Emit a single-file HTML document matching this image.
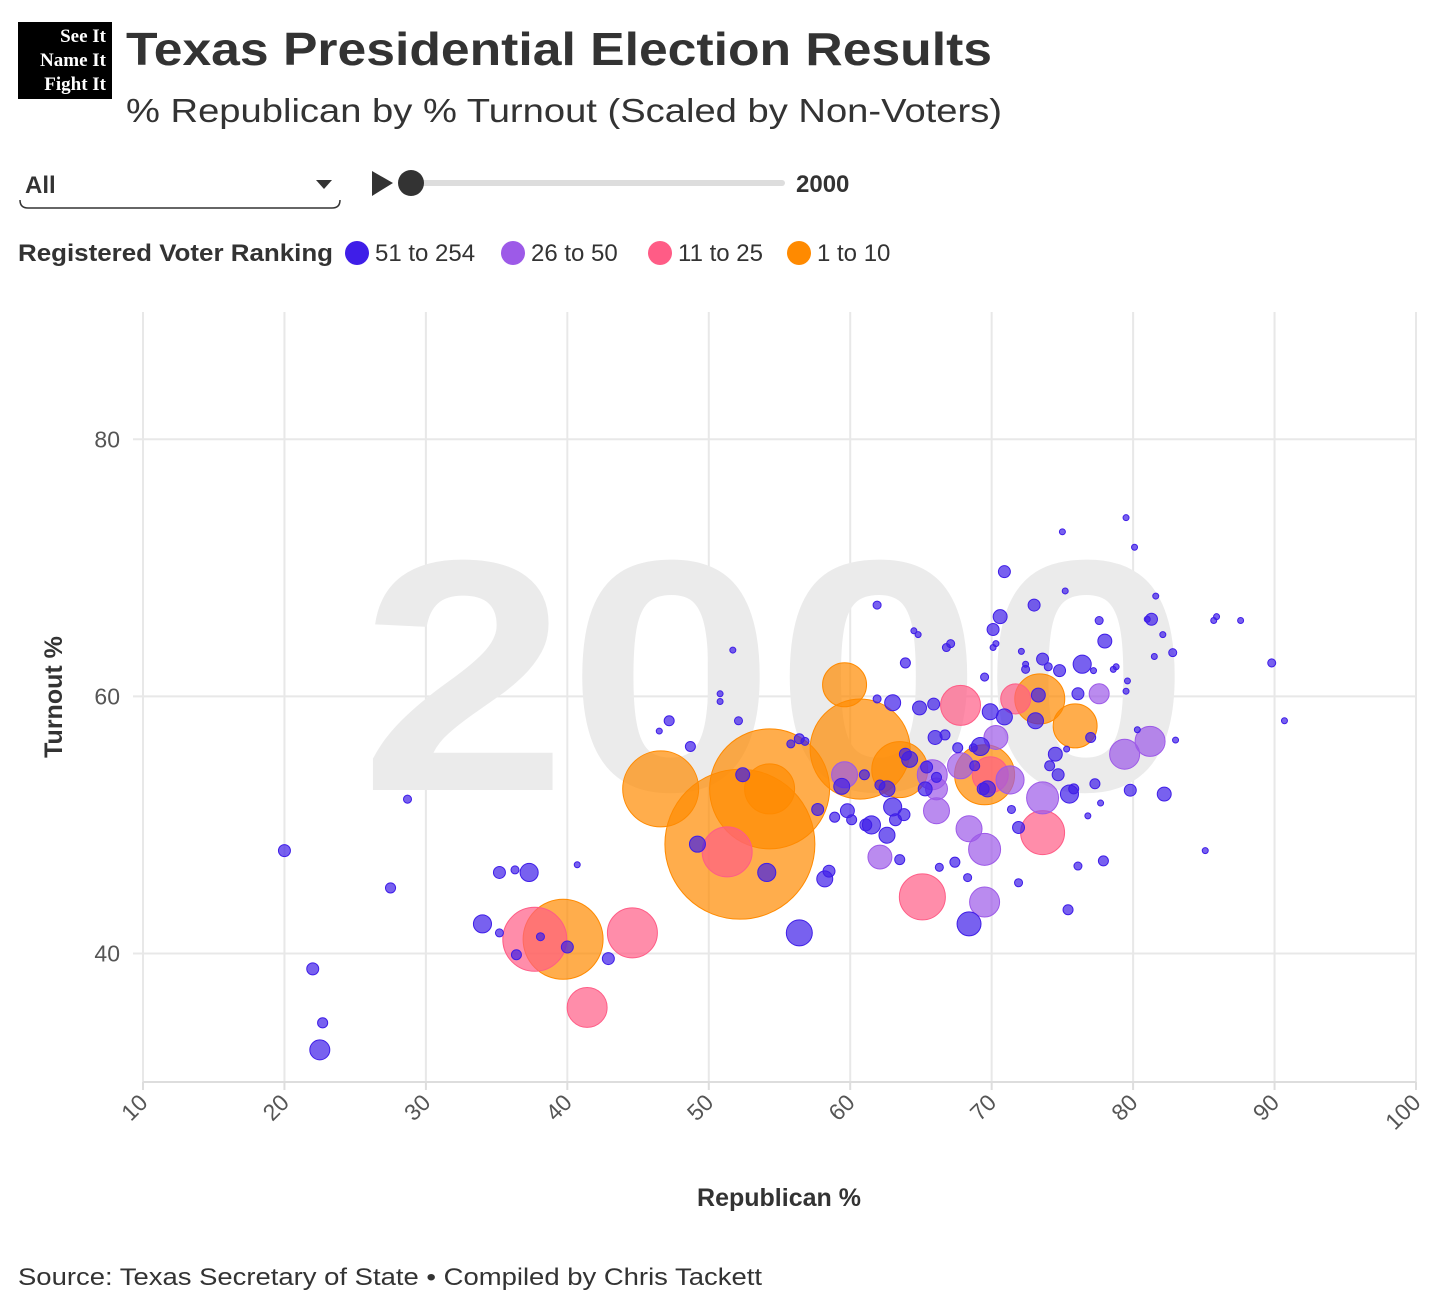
<!DOCTYPE html>
<html><head><meta charset="utf-8"><style>
html,body{margin:0;padding:0;background:#fff;}
svg{display:block;font-family:"Liberation Sans",sans-serif;}
</style></head><body>
<svg id="chart" width="1456" height="1309" viewBox="0 0 1456 1309">
  <g>
    <rect x="18" y="22" width="94" height="77" fill="#000"/>
    <text x="106" y="42" text-anchor="end" fill="#fff" font-family="Liberation Serif,serif" font-weight="bold" font-size="19">See It</text>
    <text x="106" y="66" text-anchor="end" fill="#fff" font-family="Liberation Serif,serif" font-weight="bold" font-size="19">Name It</text>
    <text x="106" y="90" text-anchor="end" fill="#fff" font-family="Liberation Serif,serif" font-weight="bold" font-size="19">Fight It</text>
  </g>
  <text x="126" y="65" font-size="46" font-weight="bold" fill="#333" textLength="866" lengthAdjust="spacingAndGlyphs">Texas Presidential Election Results</text>
  <text x="126" y="122" font-size="33" fill="#333" textLength="876" lengthAdjust="spacingAndGlyphs">% Republican by % Turnout (Scaled by Non-Voters)</text>
  <g>
    <text x="25" y="193" font-size="24" font-weight="bold" fill="#333">All</text>
    <path d="M316 180 L332 180 L324 189 Z" fill="#333"/>
    <path d="M20 200 Q20 208 28 208 L332 208 Q340 208 340 200" fill="none" stroke="#333" stroke-width="1.5"/>
  </g>
  <path d="M372 171 L393 183 L372 196 Z" fill="#333"/>
  <rect x="410" y="180" width="375" height="6" rx="3" fill="#ddd"/>
  <circle cx="411" cy="183" r="13" fill="#333"/>
  <text x="796" y="192" font-size="24" font-weight="bold" fill="#333">2000</text>
  <g>
    <text x="18" y="261" font-size="24" font-weight="bold" fill="#333" textLength="315" lengthAdjust="spacingAndGlyphs">Registered Voter Ranking</text>
    <g><circle cx="357" cy="253" r="12" fill="#3f1ee8"/><text x="375" y="261" font-size="24" fill="#333">51 to 254</text></g>
    <g><circle cx="513" cy="253" r="12" fill="#9d5ae8"/><text x="531" y="261" font-size="24" fill="#333">26 to 50</text></g>
    <g><circle cx="660" cy="253" r="12" fill="#ff5c86"/><text x="678" y="261" font-size="24" fill="#333">11 to 25</text></g>
    <g><circle cx="799" cy="253" r="12" fill="#ff8a00"/><text x="817" y="261" font-size="24" fill="#333">1 to 10</text></g>
  </g>
  <g id="grid"></g>
  <text x="775" y="790" text-anchor="middle" font-size="330" font-weight="bold" fill="#ebebeb" textLength="830" lengthAdjust="spacingAndGlyphs">2000</text>
  <g id="marks"></g>
  <g id="axes"></g>
  <text transform="translate(62,697) rotate(-90)" text-anchor="middle" font-size="25" font-weight="bold" fill="#333">Turnout %</text>
  <text x="779" y="1206" text-anchor="middle" font-size="25" font-weight="bold" fill="#333">Republican %</text>
  <text x="18" y="1285" font-size="24" fill="#333" textLength="744" lengthAdjust="spacingAndGlyphs">Source: Texas Secretary of State • Compiled by Chris Tackett</text>
</svg>
<script>
const xTicks=[10,20,30,40,50,60,70,80,90,100];
const yTicks=[40,60,80];
const rankCategories=["51 to 254","26 to 50","11 to 25","1 to 10"];
const rankColors=["#3f1ee8","#9d5ae8","#ff5c86","#ff8a00"];
const rep=[52.2,54.3,46.6,39.7,60.7,59.6,73.4,75.9,69.5,63.5,54.3,
37.7,44.6,41.4,51.3,65.1,67.8,73.6,71.7,69.9,
81.2,79.4,73.6,69.5,69.5,68.4,62.1,66.1,71.3,65.8,67.8,77.6,70.3,66.1,59.6,
20.0,22.0,22.5,22.7,27.5,28.7,34.0,35.2,35.2,36.3,36.4,37.3,38.1,40.7,40.0,42.9,47.2,46.5,48.7,49.2,50.8,50.8,51.7,52.1,52.4,54.1,55.8,56.4,56.4,56.8,57.7,58.2,58.5,58.9,59.4,59.8,60.1,61.0,61.1,61.5,61.9,61.9,62.1,62.6,62.6,63.0,63.0,63.2,63.5,63.8,63.9,63.9,64.2,64.5,64.8,64.9,65.3,65.4,65.9,66.0,66.1,66.3,66.7,66.8,67.1,67.4,67.6,68.3,68.4,68.7,68.8,69.2,69.4,69.5,69.7,69.9,70.1,70.1,70.3,70.6,70.9,70.9,71.4,71.9,71.9,72.1,72.4,72.4,73.0,73.1,73.3,73.6,74.0,74.1,74.5,74.7,74.8,75.0,75.2,75.3,75.4,75.5,75.8,76.1,76.1,76.4,76.8,77.0,77.2,77.3,77.6,77.7,77.9,78.0,78.6,78.8,79.5,79.6,79.8,79.5,80.1,80.3,81.0,81.3,81.6,82.1,81.5,82.2,82.8,83.0,85.1,85.7,85.9,87.6,89.8,90.7,92.5];
const turnout=[48.5,52.8,52.8,41.1,55.9,60.9,59.8,57.7,53.9,54.3,52.8,
41.1,41.6,35.8,47.9,44.4,59.3,49.4,59.8,53.9,
56.5,55.5,52.1,44.0,48.1,49.7,47.5,51.1,53.5,53.9,54.6,60.2,56.8,52.8,53.9,
48.0,38.8,32.5,34.6,45.1,52.0,42.3,46.3,41.6,46.5,39.9,46.3,41.3,46.9,40.5,39.6,58.1,57.3,56.1,48.5,60.2,59.6,63.6,58.1,53.9,46.3,56.3,56.7,41.6,56.5,51.2,45.8,46.4,50.6,53.0,51.1,50.4,53.9,50.0,50.0,67.1,59.8,53.1,49.2,52.8,59.5,51.4,50.4,47.3,50.8,55.5,62.6,55.1,65.1,64.8,59.1,52.8,54.5,59.4,56.8,53.7,46.7,57.0,63.8,64.1,47.1,56.0,45.9,42.3,56.0,54.6,56.1,52.8,61.5,52.8,58.8,65.2,63.8,64.1,66.2,69.7,58.4,51.2,45.5,49.8,63.5,62.1,62.5,67.1,58.1,60.1,62.9,62.3,54.6,55.5,53.9,62.0,72.8,68.2,55.9,43.4,52.4,52.8,46.8,60.2,62.5,50.7,56.8,62.0,53.2,65.9,51.7,47.2,64.3,62.1,62.3,73.9,61.2,52.7,60.4,71.6,57.4,66.0,66.0,67.8,64.8,63.1,52.4,63.4,56.6,48.0,65.9,66.2,65.9,62.6,58.1,72.9];
const nonVoters=[2197,1406,564,625,977,189,244,189,352,306,244,
400,244,156,244,207,156,189,88,127,
88,88,100,88,100,66,56,66,77,88,66,39,56,47,66,
14,14,39,10,10,6.3,32,14,6.3,6.3,9.8,32,6.3,3.5,14,14,9.8,3.5,9.8,25,3.5,3.5,3.5,6.3,19,32,6.3,9.8,66,6.3,14,25,14,9.8,25,19,9.8,9.8,14,32,6.3,6.3,9.8,25,25,25,32,14,9.8,14,14,9.8,25,3.5,3.5,19,19,14,14,19,9.8,6.3,9.8,6.3,6.3,9.8,9.8,6.3,56,6.3,9.8,32,14,6.3,25,25,14,3.5,3.5,19,14,25,6.3,6.3,14,3.5,6.3,3.5,14,25,19,14,6.3,9.8,19,14,14,3.5,3.5,3.5,9.8,32,9.8,6.3,14,32,3.5,9.8,3.5,9.8,6.3,3.5,9.8,19,3.5,3.5,3.5,3.5,14,3.5,3.5,3.5,3.5,14,3.5,3.5,3.5,19,6.3,3.5,3.5,3.5,3.5,3.5,6.3,3.5];
const rank=[3,3,3,3,3,3,3,3,3,3,3,
2,2,2,2,2,2,2,2,2,
1,1,1,1,1,1,1,1,1,1,1,1,1,1,1];
while(rank.length<rep.length) rank.push(0);

const NS="http://www.w3.org/2000/svg";
const X0=143,X1=1416,Y0=1082,Y1=312;
const xMin=10,xMax=100,yMin=30,yMax=89.9;
function xScale(v){return X0+(v-xMin)/(xMax-xMin)*(X1-X0);}
function yScale(v){return Y0-(v-yMin)/(yMax-yMin)*(Y0-Y1);}
function rScale(v){return 1.6*Math.sqrt(v);}
function mk(t,a,p){const e=document.createElementNS(NS,t);for(const k in a)e.setAttribute(k,a[k]);p.appendChild(e);return e;}

const grid=document.getElementById('grid');
xTicks.forEach(t=>{
  const l=mk('line',{x1:xScale(t),x2:xScale(t),y1:Y1,y2:Y0,stroke:'#e8e8e8','stroke-width':2},grid);
  
  
});
yTicks.forEach(t=>{
  const l=mk('line',{x1:X0-10,x2:X1,y1:yScale(t),y2:yScale(t),stroke:'#e8e8e8','stroke-width':2},grid);
  
  
});
const axes=document.getElementById('axes');
const base=mk('line',{x1:X0,x2:X1,y1:Y0,y2:Y0,stroke:'#ddd','stroke-width':2},axes);


yTicks.forEach(t=>{
  const tx=mk('text',{x:120,y:yScale(t)+8,'text-anchor':'end','font-size':23,fill:'#555'},axes);
  tx.textContent=t;
  
  
});
xTicks.forEach(t=>{
  const x=xScale(t);
  const tk=mk('line',{x1:x,x2:x,y1:Y0,y2:Y0+8,stroke:'#ddd','stroke-width':2},axes);
  
  
  const tx=mk('text',{transform:`translate(${x+6},${Y0+22}) rotate(-45)`,'text-anchor':'end','font-size':23,fill:'#555'},axes);
  tx.textContent=t;
  
  
});
const marks=document.getElementById('marks');
const idx=rep.map((_,i)=>i).sort((a,b)=>nonVoters[b]-nonVoters[a]);
idx.forEach(i=>{
  const c=rankColors[rank[i]];
  const el=mk('circle',{cx:xScale(rep[i]),cy:yScale(turnout[i]),r:rScale(nonVoters[i]),fill:c,'fill-opacity':0.7,stroke:c,'stroke-width':1},marks);
  
  
});
</script>
</body></html>
